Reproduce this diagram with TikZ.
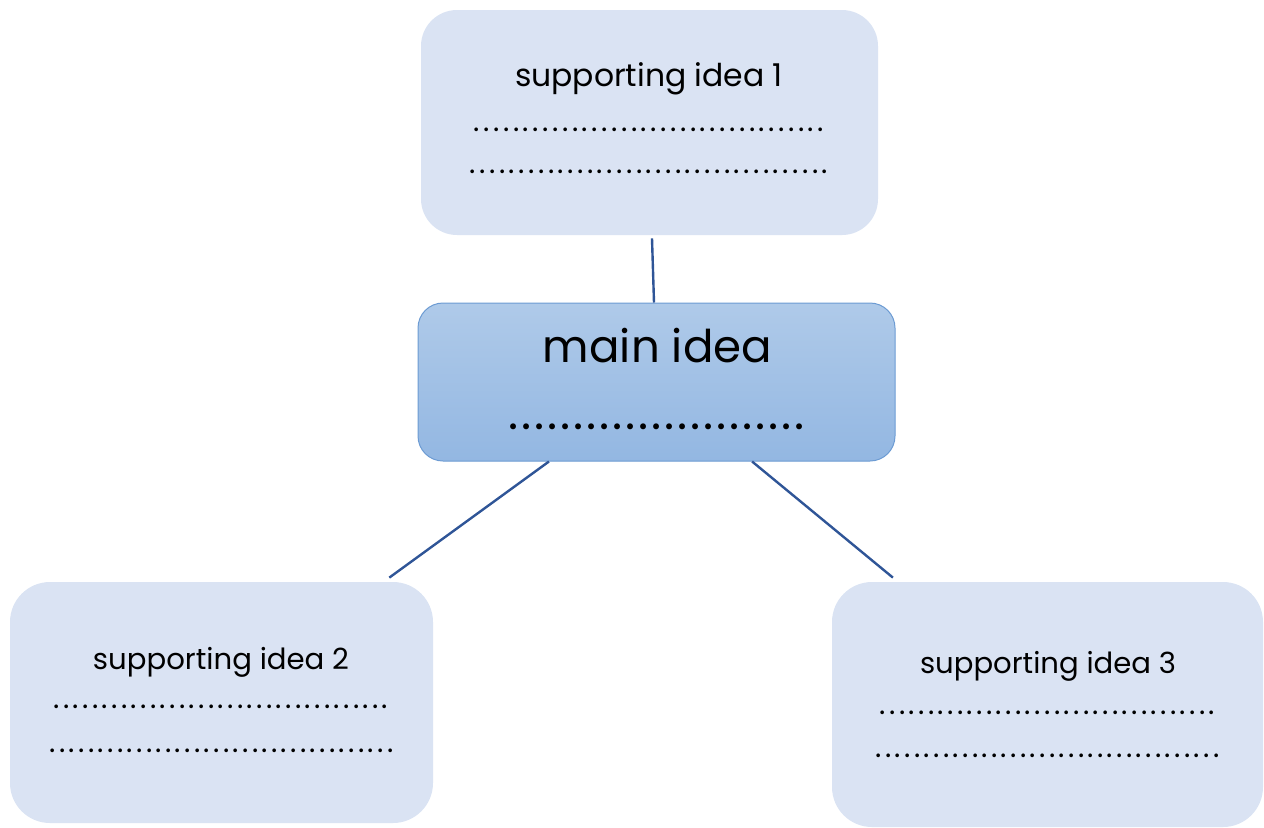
\documentclass[tikz,border=0pt]{standalone}
\usepackage{fontspec}
\usepackage{graphicx}
\setmainfont{Poppins}
\usetikzlibrary{calc}
\definecolor{boxfill}{HTML}{DAE3F3}
\definecolor{maintop}{HTML}{AFCAE9}
\definecolor{mainbot}{HTML}{93B7E2}
\definecolor{mainedge}{HTML}{6C9BD3}
\definecolor{linkcol}{HTML}{2F5597}
\newcommand\dotrow[3]{\fontsize{#3}{#3}\selectfont\hbox to #1{\xleaders\hbox to #2{\hss.\hss}\hfill}}
\begin{document}
\begin{tikzpicture}[x=0.5pt,y=-0.5pt,
  suppbox/.style={fill=boxfill, draw=none, rounded corners=18pt, inner sep=0pt},
  mainbox/.style={top color=maintop, bottom color=mainbot, draw=mainedge, line width=0.5pt, rounded corners=12.5pt, inner sep=0pt},
  lbl/.style={inner sep=0pt, anchor=center, text=black},
  connector/.style={draw=linkcol, line width=1.2pt}]
\useasboundingbox (0,0) rectangle (1264,827);
% boxes
\node[suppbox, minimum width=228.5pt, minimum height=112.5pt] (top) at (649.5,122.5) {};
\node[mainbox, minimum width=238.5pt, minimum height=79pt] (main) at (656.5,382) {};
\node[suppbox, minimum width=211.5pt, minimum height=120.5pt, rounded corners=20pt] (bl) at (221.5,702.5) {};
\node[suppbox, minimum width=215.5pt, minimum height=122.5pt, rounded corners=20pt] (br) at (1047.5,704.5) {};
% texts
\node[lbl] (t1) at (649,79) {\resizebox{134pt}{!}{supporting idea 1}};
\node[lbl] (t1a) at (649,130) {\dotrow{177pt}{4.8pt}{15pt}};
\node[lbl] (t1b) at (649,172) {\dotrow{181pt}{4.8pt}{15pt}};
\node[lbl] (tm) at (657.5,346) {\resizebox{114.5pt}{!}{main idea}};
\node[lbl] (tma) at (656.5,427) {\dotrow{149.5pt}{6.4pt}{24pt}};
\node[lbl] (t2) at (221,662) {\resizebox{128pt}{!}{supporting idea 2}};
\node[lbl] (t2a) at (221,707) {\dotrow{169pt}{4.8pt}{15pt}};
\node[lbl] (t2b) at (221.5,751) {\dotrow{173.5pt}{4.8pt}{15pt}};
\node[lbl] (t3) at (1048,666) {\resizebox{128pt}{!}{supporting idea 3}};
\node[lbl] (t3a) at (1047.5,713) {\dotrow{169.5pt}{4.8pt}{15pt}};
\node[lbl] (t3b) at (1047.5,756) {\dotrow{173.5pt}{4.8pt}{15pt}};
% connector ends
\coordinate (c1s) at ([xshift=1.25pt,yshift=-1.5pt]top.south);
\coordinate (c1e) at ([xshift=-1.25pt]main.north);
\coordinate (c2s) at ($(main.south west)!0.275!(main.south east)$);
\coordinate (c2e) at ($(bl.north west)!0.896!(bl.north east)$);
\coordinate (c3s) at ($(main.south west)!0.70!(main.south east)$);
\coordinate (c3e) at ($(br.north west)!0.142!(br.north east)$);
\draw[connector] (c1s) -- (c1e);
\draw[connector] (c2s) -- ([yshift=2pt]c2e);
\draw[connector] (c3s) -- ([yshift=2pt]c3e);
\end{tikzpicture}
\end{document}
